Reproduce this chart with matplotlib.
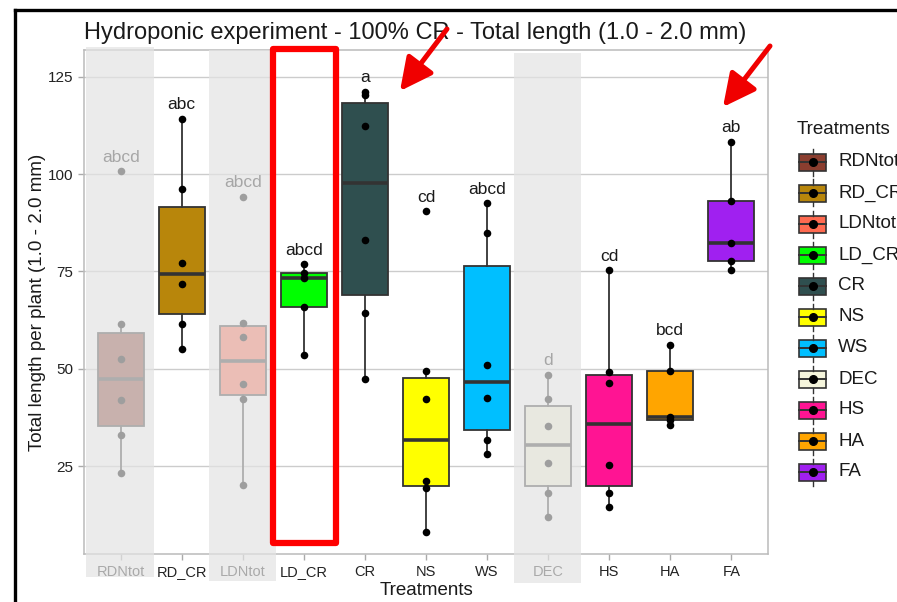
import numpy as np
import matplotlib
matplotlib.use("Agg")
import matplotlib.pyplot as plt
from matplotlib import transforms
from matplotlib.patches import Rectangle, FancyArrowPatch
from matplotlib.lines import Line2D

plt.rcParams['font.family'] = ['Liberation Sans', 'DejaVu Sans']

# ---------------- data ----------------
categories = ['RDNtot', 'RD_CR', 'LDNtot', 'LD_CR', 'CR', 'NS', 'WS', 'DEC', 'HS', 'HA', 'FA']
rdntot = [23.3, 33.0, 42.0, 52.6, 61.5, 100.8]
rd_cr = [55.2, 61.5, 71.8, 77.1, 96.3, 114.2]
ldntot = [20.1, 42.3, 46.1, 58.1, 61.8, 94.2]
ld_cr = [53.5, 65.9, 73.4, 74.7, 76.8]
cr = [47.3, 64.2, 83.2, 112.5, 120.3, 121.2]
ns = [8.1, 19.4, 21.1, 42.2, 49.5, 90.5]
ws = [28.1, 31.6, 42.5, 50.9, 84.9, 92.5]
dec = [11.9, 18.1, 25.7, 35.3, 42.2, 48.4]
hs = [14.6, 18.1, 25.3, 46.4, 49.1, 75.3]
ha = [35.5, 36.8, 37.5, 49.5, 56.1]
fa = [75.3, 77.8, 82.3, 93.2, 108.3]
group_values = [rdntot, rd_cr, ldntot, ld_cr, cr, ns, ws, dec, hs, ha, fa]
letters = ['abcd', 'abc', 'abcd', 'abcd', 'a', 'cd', 'abcd', 'd', 'cd', 'bcd', 'ab']
colors = ['#8B3E2F', '#B8860B', '#FF6A50', '#00FF00', '#2F4F4F', '#FFFF00',
          '#00BFFF', '#F5F5DC', '#FF1493', '#FFA500', '#A020F0']
faded = ['RDNtot', 'LDNtot', 'DEC']
yticks = [25, 50, 75, 100, 125]

title = 'Hydroponic experiment - 100% CR - Total length (1.0 - 2.0 mm)'
ylabel = 'Total length per plant (1.0 - 2.0 mm)'
xlabel = 'Treatments'
legend_title = 'Treatments'

# ---------------- figure ----------------
W, H = 897, 602
fig = plt.figure(figsize=(W / 100, H / 100), dpi=100)
fig.patch.set_facecolor('white')

def fx(px):
    return px / W

def fy(py):
    return 1 - py / H

ax = fig.add_axes([fx(84), fy(554), fx(768) - fx(84), fy(50) - fy(554)])
ax.set_facecolor('white')
positions = np.arange(1, len(categories) + 1)

edge = '#333333'
bp = ax.boxplot(group_values, positions=positions, widths=0.75, patch_artist=True,
                showfliers=False, showcaps=False, whis=1.5,
                boxprops=dict(edgecolor=edge, linewidth=1.3),
                medianprops=dict(color=edge, linewidth=2.6, solid_capstyle='butt'),
                whiskerprops=dict(color=edge, linewidth=1.3),
                zorder=2)
for patch, c in zip(bp['boxes'], colors):
    patch.set_facecolor(c)

for pos, vals in zip(positions, group_values):
    ax.scatter(np.full(len(vals), pos), vals, s=30, color='black', zorder=4, linewidths=0)

for pos, vals, lab in zip(positions, group_values, letters):
    ax.text(pos, max(vals) + 3.6, lab, ha='center', va='center', fontsize=12.5, color='#1a1a1a', zorder=5)

ax.set_xlim(0.4, len(categories) + 0.6)
ax.set_ylim(2.4, 131.9)
ax.set_yticks(yticks)
ax.set_xticks(positions)
ax.set_xticklabels(categories)
ax.tick_params(axis='both', colors='#AAAAAA', length=4, width=1, labelcolor='#222222', labelsize=11)
ax.tick_params(axis='x', labelsize=10.5, pad=4)
ax.grid(axis='y', color='#CCCCCC', linewidth=1.0, zorder=0)
ax.set_axisbelow(True)
for s in ax.spines.values():
    s.set_color('#BBBBBB')
    s.set_linewidth(1.1)

ax.set_title(title, fontsize=17, color='#1a1a1a', loc='left', x=0.0, pad=8)
ax.set_ylabel(ylabel, fontsize=13.5, color='#1a1a1a', labelpad=1.5)
ax.set_xlabel(xlabel, fontsize=13.5, color='#1a1a1a', labelpad=2)

# ---------------- legend (manual ggplot-like keys) ----------------
fig.text(fx(797), fy(129), legend_title, fontsize=13.5, color='#1a1a1a', va='center', ha='left')
for i, (name, c) in enumerate(zip(categories, colors)):
    yc = 162 + 31 * i
    fig.patches.append(Rectangle((fx(799), fy(yc + 8.5)), fx(826) - fx(799), fy(yc - 8.5) - fy(yc + 8.5),
                                 transform=fig.transFigure, facecolor=c, edgecolor=edge, linewidth=1.2, zorder=3))
    fig.lines.append(Line2D([fx(799), fx(826)], [fy(yc), fy(yc)], transform=fig.transFigure,
                            color=edge, linewidth=1.4, zorder=4))
    fig.lines.append(Line2D([fx(812.5), fx(812.5)], [fy(yc - 13.5), fy(yc - 8.5)], transform=fig.transFigure,
                            color=edge, linewidth=1.0, zorder=4))
    fig.lines.append(Line2D([fx(812.5), fx(812.5)], [fy(yc + 8.5), fy(yc + 13.5)], transform=fig.transFigure,
                            color=edge, linewidth=1.0, zorder=4))
    fig.lines.append(Line2D([fx(812.5)], [fy(yc)], transform=fig.transFigure, marker='o', markersize=5.5,
                            color='black', linestyle='none', zorder=5))
    fig.text(fx(838), fy(yc), name, fontsize=13.5, color='#1a1a1a', va='center', ha='left')

# ---------------- overlays (screenshot annotations) ----------------
blend = transforms.blended_transform_factory(ax.transData, fig.transFigure)
shade = {'RDNtot': (47, 577), 'LDNtot': (50, 581), 'DEC': (53, 583)}
for name in faded:
    pos = categories.index(name) + 1
    top, bot = shade[name]
    fig.patches.append(Rectangle((pos - 0.56, fy(bot)), 1.1, fy(top) - fy(bot), transform=blend,
                                 facecolor='#E3E3E3', edgecolor='none', alpha=0.70, zorder=10))

hl = categories.index('LD_CR') + 1
fig.patches.append(Rectangle((hl - 0.51, fy(543)), 1.03, fy(49) - fy(543), transform=blend,
                             facecolor='none', edgecolor='#FF0000', linewidth=4.5, joinstyle='round', zorder=11))

for (x0, y0), (x1, y1) in [((447, 29), (400, 91)), ((770, 46), (723, 107))]:
    fig.patches.append(FancyArrowPatch((fx(x0), fy(y0)), (fx(x1), fy(y1)), transform=fig.transFigure,
                                       arrowstyle='-|>,head_length=0.9,head_width=0.45', mutation_scale=22,
                                       color='#F00000', linewidth=3.6, shrinkA=0, shrinkB=0, zorder=12))

fig.lines.append(Line2D([fx(15), fx(15)], [0, fy(10)], transform=fig.transFigure, color='black', linewidth=2.4, zorder=13,
                        solid_capstyle='projecting'))
fig.lines.append(Line2D([fx(15), 1], [fy(10), fy(10)], transform=fig.transFigure, color='black', linewidth=2.4, zorder=13,
                        solid_capstyle='projecting'))

fig.savefig('out.png', dpi=100, facecolor='white')
